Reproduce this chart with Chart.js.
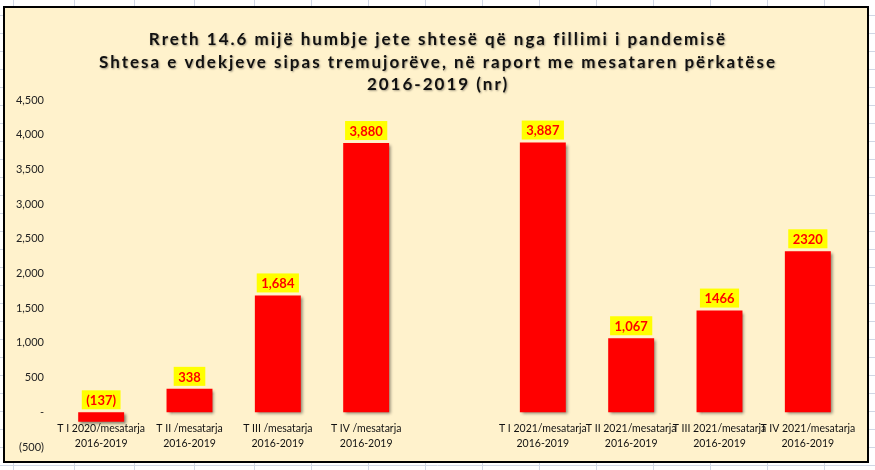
<!DOCTYPE html>
<html>
<head>
<meta charset="utf-8">
<script src="https://cdn.jsdelivr.net/npm/chart.js@4/dist/chart.umd.min.js"></script>
<style>
html,body{margin:0;padding:0;background:#fff;}
#wrap{width:875px;height:470px;position:relative;}
</style>
</head>
<body>
<div id="wrap"><canvas id="c" width="875" height="470"></canvas></div>
<script>
const titleLines = [
  "Rreth 14.6 mijë humbje jete shtesë që nga fillimi i pandemisë",
  "Shtesa e vdekjeve sipas tremujorëve, në raport me mesataren përkatëse",
  "2016-2019 (nr)"
];
const categories = [
  ["T I 2020/mesatarja", "2016-2019"],
  ["T II /mesatarja", "2016-2019"],
  ["T III /mesatarja", "2016-2019"],
  ["T IV /mesatarja", "2016-2019"],
  ["", ""],
  ["T I 2021/mesatarja", "2016-2019"],
  ["T II 2021/mesatarja", "2016-2019"],
  ["T III 2021/mesatarja", "2016-2019"],
  ["T IV 2021/mesatarja", "2016-2019"]
];
const values = [-137, 338, 1684, 3880, null, 3887, 1067, 1466, 2320];
const valueLabels = ["(137)", "338", "1,684", "3,880", "", "3,887", "1,067", "1466", "2320"];
const yMin = -500, yMax = 4500, yStep = 500;

const FONT = "Lato, 'Open Sans', sans-serif";

const bgPlugin = {
  id: 'bg',
  beforeDraw(chart) {
    const ctx = chart.ctx;
    ctx.save();
    ctx.fillStyle = '#ffffff';
    ctx.fillRect(0, 0, chart.width, chart.height);
    ctx.strokeStyle = '#d0d7e5';
    ctx.lineWidth = 1;
    const vx = [13, 74, 134, 194, 254, 311, 368, 425, 482, 539, 596, 653, 710, 767, 824];
    vx.forEach(x => { ctx.beginPath(); ctx.moveTo(x + 0.5, 0); ctx.lineTo(x + 0.5, chart.height); ctx.stroke(); });
    for (let y = 15; y < chart.height; y += 18) {
      ctx.beginPath(); ctx.moveTo(0, y + 0.5); ctx.lineTo(chart.width, y + 0.5); ctx.stroke();
    }
    ctx.fillStyle = '#fff2cc';
    ctx.fillRect(4, 7, 864, 455);
    ctx.strokeStyle = '#000';
    ctx.lineWidth = 2;
    ctx.strokeRect(4, 7, 864, 455);
    ctx.restore();
  }
};

const titlePlugin = {
  id: 'ctitle',
  afterDraw(chart) {
    const ctx = chart.ctx;
    ctx.save();
    ctx.font = "bold 17px " + FONT;
    ctx.letterSpacing = '2px';
    ctx.textAlign = 'center';
    ctx.textBaseline = 'middle';
    ctx.fillStyle = '#111';
    ctx.shadowColor = 'rgba(0,0,0,0.35)';
    ctx.shadowBlur = 2;
    ctx.shadowOffsetX = 1;
    ctx.shadowOffsetY = 1;
    const cx = 438, y0 = 40, lh = 22.5;
    titleLines.forEach((t, i) => ctx.fillText(t, cx, y0 + i * lh));
    ctx.restore();
  }
};

const shadowPlugin = {
  id: 'shadow',
  beforeDatasetsDraw(chart) {
    const ctx = chart.ctx;
    ctx.save();
    ctx.shadowColor = 'rgba(0,0,0,0.45)';
    ctx.shadowBlur = 3;
    ctx.shadowOffsetX = 2;
    ctx.shadowOffsetY = 2;
  },
  afterDatasetsDraw(chart) {
    chart.ctx.restore();
  }
};

const labelPlugin = {
  id: 'vlabels',
  afterDatasetsDraw(chart) {
    const ctx = chart.ctx;
    const meta = chart.getDatasetMeta(0);
    ctx.save();
    ctx.font = "bold 13px " + FONT;
    ctx.textAlign = 'center';
    ctx.textBaseline = 'middle';
    meta.data.forEach((el, i) => {
      const txt = valueLabels[i];
      if (!txt || values[i] === null) return;
      const top = Math.min(el.y, el.base);
      const w = ctx.measureText(txt).width + 9;
      const h = 19;
      const bottom = top - 3;
      ctx.fillStyle = '#ffff00';
      ctx.fillRect(el.x - w / 2, bottom - h, w, h);
      ctx.fillStyle = '#ff0000';
      ctx.fillText(txt, el.x, bottom - h / 2 + 1);
    });
    ctx.restore();
  }
};

new Chart(document.getElementById('c'), {
  type: 'bar',
  data: {
    labels: categories,
    datasets: [{
      data: values,
      backgroundColor: '#ff0000',
      borderWidth: 0,
      barPercentage: 0.52,
      categoryPercentage: 1
    }]
  },
  options: {
    responsive: false,
    animation: false,
    devicePixelRatio: 1,
    layout: { padding: { left: 8, right: 23, top: 100, bottom: 23 } },
    plugins: {
      legend: { display: false },
      tooltip: { enabled: false },
      title: { display: false }
    },
    scales: {
      x: {
        position: { y: 0 },
        grid: { display: false, drawTicks: false },
        border: { display: false },
        ticks: {
          color: '#111',
          font: { family: FONT, size: 10.5, lineHeight: '15px' },
          maxRotation: 0, minRotation: 0, autoSkip: false,
          padding: 9
        }
      },
      y: {
        min: yMin, max: yMax,
        grid: { display: false, drawTicks: false },
        border: { display: false },
        afterFit(scale) { scale.width = 49; },
        ticks: {
          stepSize: yStep,
          color: '#222',
          font: { family: FONT, size: 11 },
          padding: 13,
          callback(v) {
            if (v === 0) return '-';
            const s = Math.abs(v).toLocaleString('en-US');
            return v < 0 ? '(' + s + ')' : s;
          }
        }
      }
    }
  },
  plugins: [bgPlugin, shadowPlugin, labelPlugin, titlePlugin]
});
</script>
</body>
</html>
